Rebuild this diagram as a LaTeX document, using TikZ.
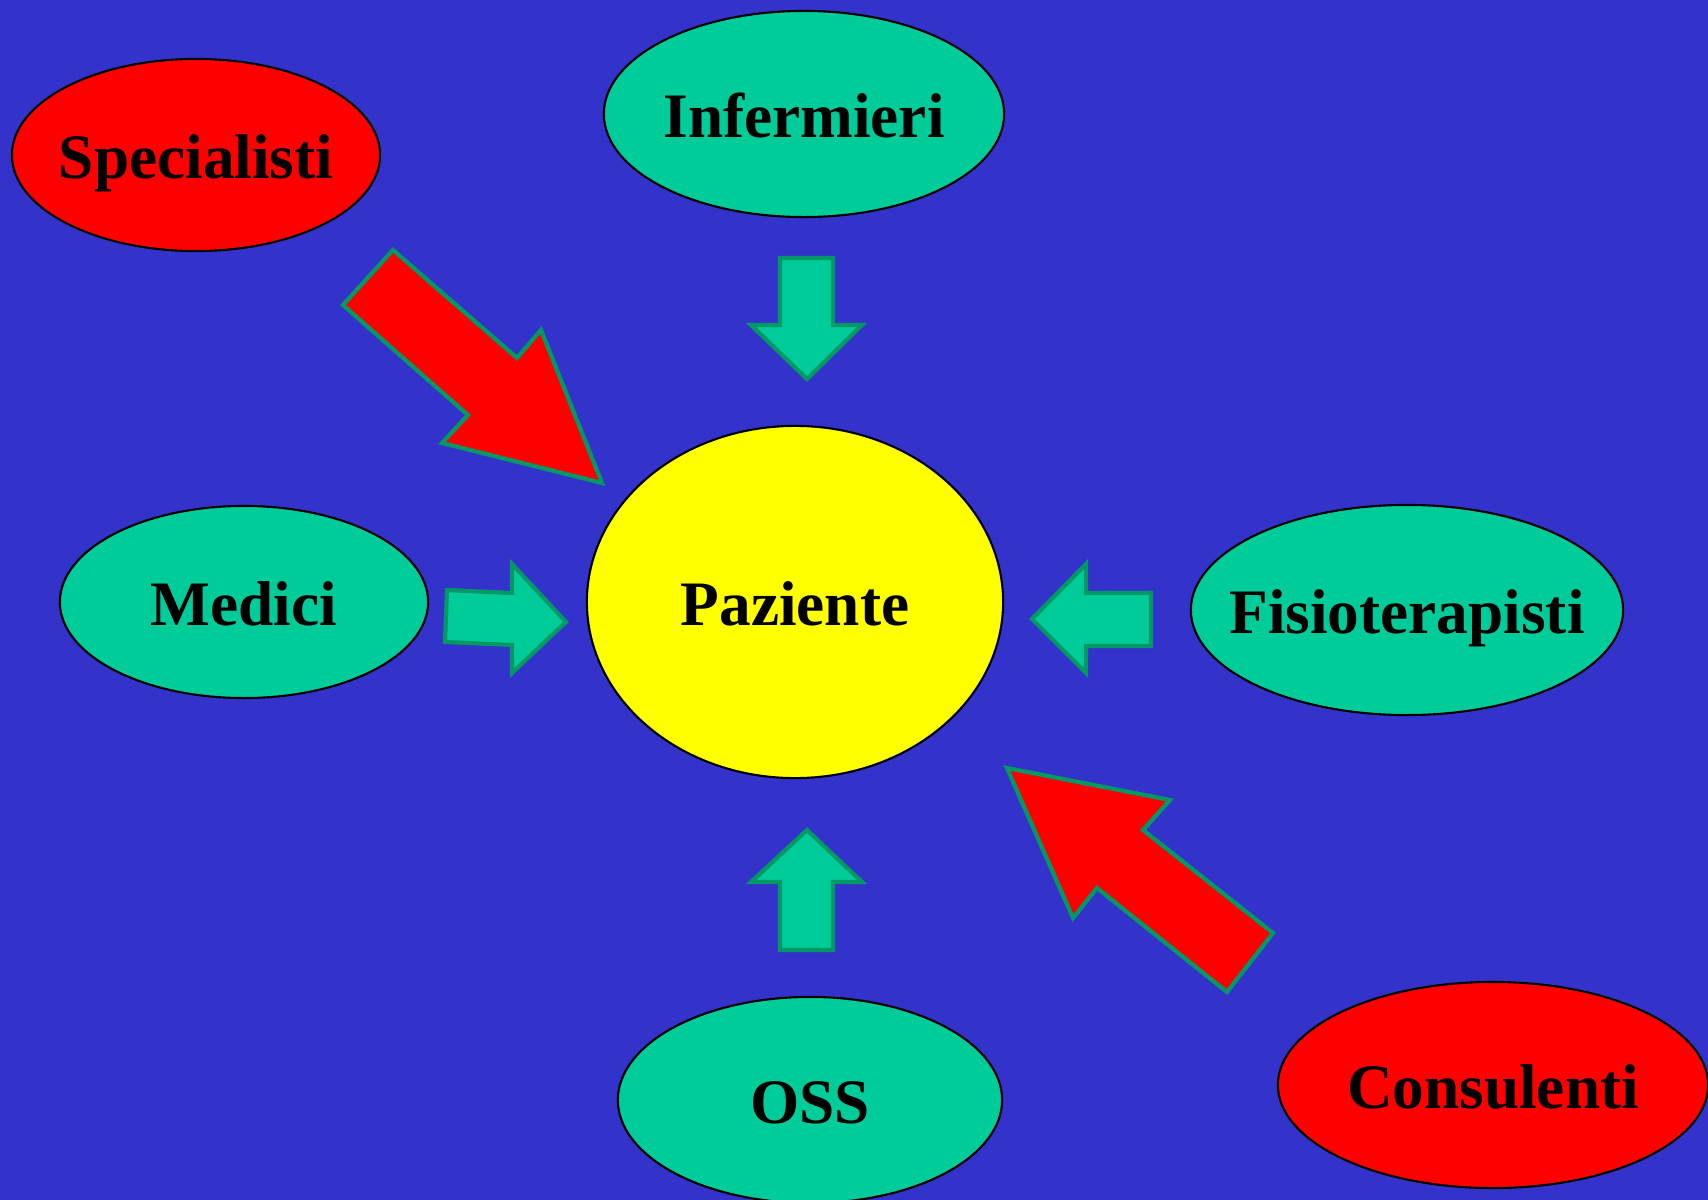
\documentclass[tikz,border=0pt]{standalone}
\usepackage{fontspec}
\setmainfont{Liberation Serif}
\usetikzlibrary{shapes.geometric}
\definecolor{bgblue}{RGB}{51,51,204}
\definecolor{teamgreen}{RGB}{0,204,153}
\definecolor{edgegreen}{RGB}{0,153,102}
\definecolor{extred}{RGB}{255,0,0}
\definecolor{patyellow}{RGB}{255,255,0}

\begin{document}
\begin{tikzpicture}[x=0.01cm, y=-0.01cm]
    \tikzstyle{role}=[draw=black, line width=0.6pt, shape=ellipse, inner sep=0pt,
        label={[font=\fontsize{18}{22}\selectfont\bfseries, text height=13.2pt, text depth=0pt]center:#1}]
    \tikzstyle{staff}=[role=#1, fill=teamgreen]
    \tikzstyle{external}=[role=#1, fill=extred]
    \tikzstyle{patient}=[role=#1, fill=patyellow]
    \tikzstyle{blockarrow}=[draw=edgegreen, line width=1.2pt, line join=miter]
    \tikzstyle{greenarrow}=[blockarrow, fill=teamgreen]
    \tikzstyle{redarrow}=[blockarrow, fill=extred]

    \useasboundingbox (0,0) rectangle (1708,1200);
    \clip (0,0) rectangle (1708,1200);
    \fill [bgblue] (0,0) rectangle (1708,1200);

    % the patient and the people around him
    \node [patient=Paziente, minimum width=4.16cm, minimum height=3.52cm] (paziente) at (795,602) {};
    \node [staff=Infermieri, minimum width=4.00cm, minimum height=2.06cm] (infermieri) at (804,114) {};
    \node [external=Specialisti, minimum width=3.68cm, minimum height=1.92cm] (specialisti) at (196,155) {};
    \node [staff=Medici, minimum width=3.68cm, minimum height=1.92cm] (medici) at (244,602) {};
    \node [staff=Fisioterapisti, minimum width=4.32cm, minimum height=2.10cm] (fisio) at (1407,610) {};
    \node [staff=OSS, minimum width=3.84cm, minimum height=2.06cm] (oss) at (810,1100) {};
    \node [external=Consulenti, minimum width=4.30cm, minimum height=2.06cm] (consulenti) at (1493,1085) {};

    % block arrows pointing to the patient
    \draw [style=greenarrow] (780,258) -- (833,258) -- (833,325) -- (862,325)
        -- (807,379) -- (751,325) -- (780,325) -- cycle;
    \draw [style=greenarrow] (780,950) -- (833,950) -- (833,882) -- (862,882)
        -- (807,830) -- (751,882) -- (780,882) -- cycle;
    \draw [style=greenarrow] (447,590) -- (512,593) -- (512,564) -- (566,622)
        -- (512,673) -- (512,645) -- (445,642) -- cycle;
    \draw [style=greenarrow] (1151,593) -- (1086,593) -- (1086,564) -- (1032,619)
        -- (1086,673) -- (1086,646) -- (1151,646) -- cycle;
    \draw [style=redarrow] (393,250) -- (517,358) -- (541,330) -- (602,483)
        -- (442,443) -- (468,415) -- (343,305) -- cycle;
    \draw [style=redarrow] (1007,768) -- (1170,800) -- (1143,830) -- (1273,933)
        -- (1227,992) -- (1097,888) -- (1073,918) -- cycle;
\end{tikzpicture}
\end{document}
